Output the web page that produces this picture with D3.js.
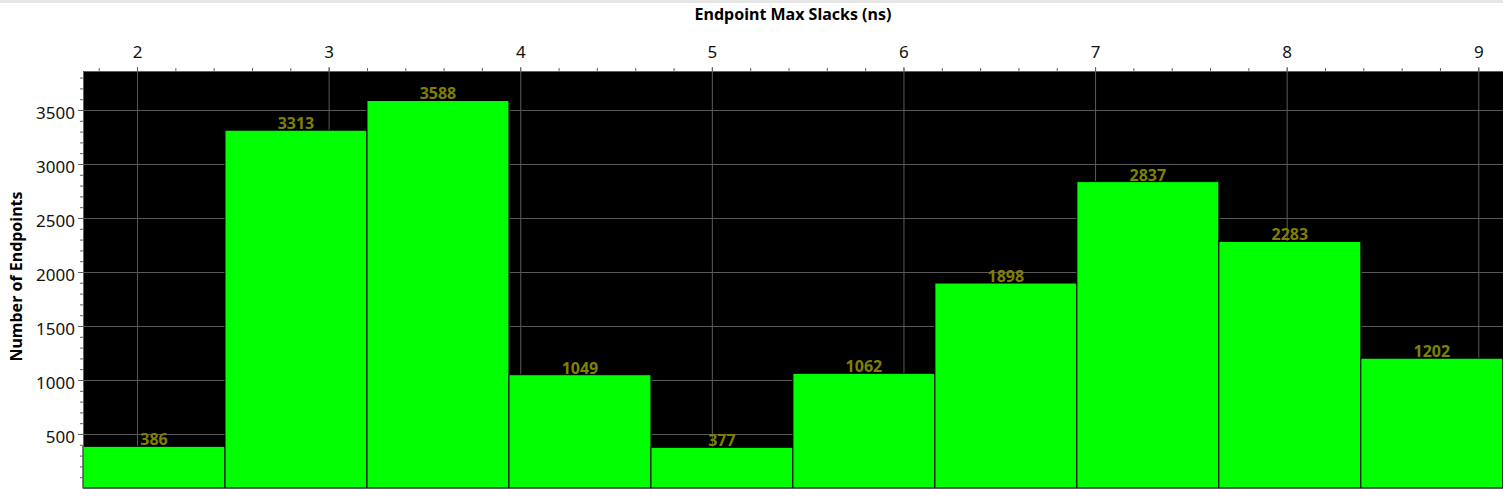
<!DOCTYPE html>
<html>
<head>
<meta charset="utf-8">
<title>Endpoint Max Slacks</title>
<script src="https://cdnjs.cloudflare.com/ajax/libs/d3/7.8.5/d3.min.js"></script>
<style>
body { margin: 0; background: #fff; }
text { font-family: "Noto Sans", "Open Sans", sans-serif; }
.axis path, .axis line { stroke: #606060; }
.axis text { fill: #111; font-size: 17px; }
.grid line { stroke: #5a5a5a; }
.grid path { display: none; }
.bar { fill: #00ff00; stroke: #000; stroke-width: 1; }
.val { fill: #808000; font-size: 16px; font-weight: bold; text-anchor: middle; }
.title { font-size: 16px; font-weight: bold; fill: #000; text-anchor: middle; }
</style>
</head>
<body>
<svg id="vis" width="1503" height="501"></svg>
<script>
// histogram bins (ns) and endpoint counts
var binEdges = [1.718, 2.459, 3.200, 3.941, 4.682, 5.423, 6.164, 6.905, 7.646, 8.387, 9.128];
var counts   = [386, 3313, 3588, 1049, 377, 1062, 1898, 2837, 2283, 1202];
var xTicks   = [2, 3, 4, 5, 6, 7, 8, 9];
var yTicks   = [500, 1000, 1500, 2000, 2500, 3000, 3500];

var svg = d3.select("#vis");
var pLeft = 83, pRight = 1503, pTop = 71, pBottom = 488;

var x = d3.scaleLinear().domain([1.718, 9.129]).range([pLeft, pRight]);
var y = d3.scaleLinear().domain([0, 3861]).range([pBottom, pTop]);

var data = counts.map((c, i) => ({x0: binEdges[i], x1: binEdges[i + 1], n: c}));

// grey strip at very top
svg.append("rect").attr("x", 0).attr("y", 0).attr("width", 1503).attr("height", 3)
  .attr("fill", "#e6e6e6");

// plot background
svg.append("rect").attr("x", pLeft).attr("y", pTop)
  .attr("width", pRight - pLeft + 2).attr("height", pBottom - pTop).attr("fill", "#000");

// grid
svg.append("g").attr("class", "grid")
  .attr("transform", `translate(0,${pBottom})`)
  .call(d3.axisBottom(x).tickValues(xTicks).tickSize(-(pBottom - pTop)).tickFormat(""));
svg.append("g").attr("class", "grid")
  .attr("transform", `translate(${pLeft},0)`)
  .call(d3.axisLeft(y).tickValues(yTicks).tickSize(-(pRight - pLeft + 2)).tickFormat(""));

// bars
svg.selectAll(".bar")
  .data(data).enter().append("rect")
    .attr("class", "bar")
    .attr("x", d => x(d.x0))
    .attr("y", d => y(d.n))
    .attr("width", d => x(d.x1) - x(d.x0))
    .attr("height", d => y(0) - y(d.n));

svg.selectAll(".val")
  .data(data).enter().append("text")
    .attr("class", "val")
    .attr("x", d => (x(d.x0) + x(d.x1)) / 2)
    .attr("y", d => y(d.n) - 1)
    .text(d => d.n);

// minor ticks
var xMinor = d3.range(18, 92, 2).map(v => v / 10).filter(v => v > 1.72 && v < 9.13);
var yMinor = d3.range(100, 3900, 100);

svg.append("g").attr("class", "axis")
  .attr("transform", `translate(0,${pTop})`)
  .call(d3.axisTop(x).tickValues(xMinor).tickSize(3).tickFormat(""))
  .select(".domain").remove();
svg.append("g").attr("class", "axis")
  .attr("transform", `translate(${pLeft},0)`)
  .call(d3.axisLeft(y).tickValues(yMinor).tickSize(3).tickFormat(""))
  .select(".domain").remove();

// main axes
svg.append("g").attr("class", "axis")
  .attr("transform", `translate(0,${pTop})`)
  .call(d3.axisTop(x).tickValues(xTicks).tickSize(4).tickPadding(9).tickSizeOuter(0))
  .selectAll("text").attr("dy", "0");

svg.append("g").attr("class", "axis")
  .attr("transform", `translate(${pLeft},0)`)
  .call(d3.axisLeft(y).tickValues(yTicks).tickSize(5).tickPadding(3).tickSizeOuter(0)
    .tickFormat(d3.format("d")))
  .selectAll("text").attr("dy", "0.5em");

svg.append("line").attr("x1", pLeft).attr("x2", pRight + 2)
  .attr("y1", pBottom + 0.5).attr("y2", pBottom + 0.5)
  .attr("stroke", "#606060");

// titles
svg.append("text").attr("class", "title")
  .attr("x", (pLeft + pRight) / 2).attr("y", 20)
  .text("Endpoint Max Slacks (ns)");

svg.append("text").attr("class", "title")
  .attr("transform", `translate(22,${(pTop + pBottom) / 2 - 3}) rotate(-90)`)
  .text("Number of Endpoints");
</script>
</body>
</html>
